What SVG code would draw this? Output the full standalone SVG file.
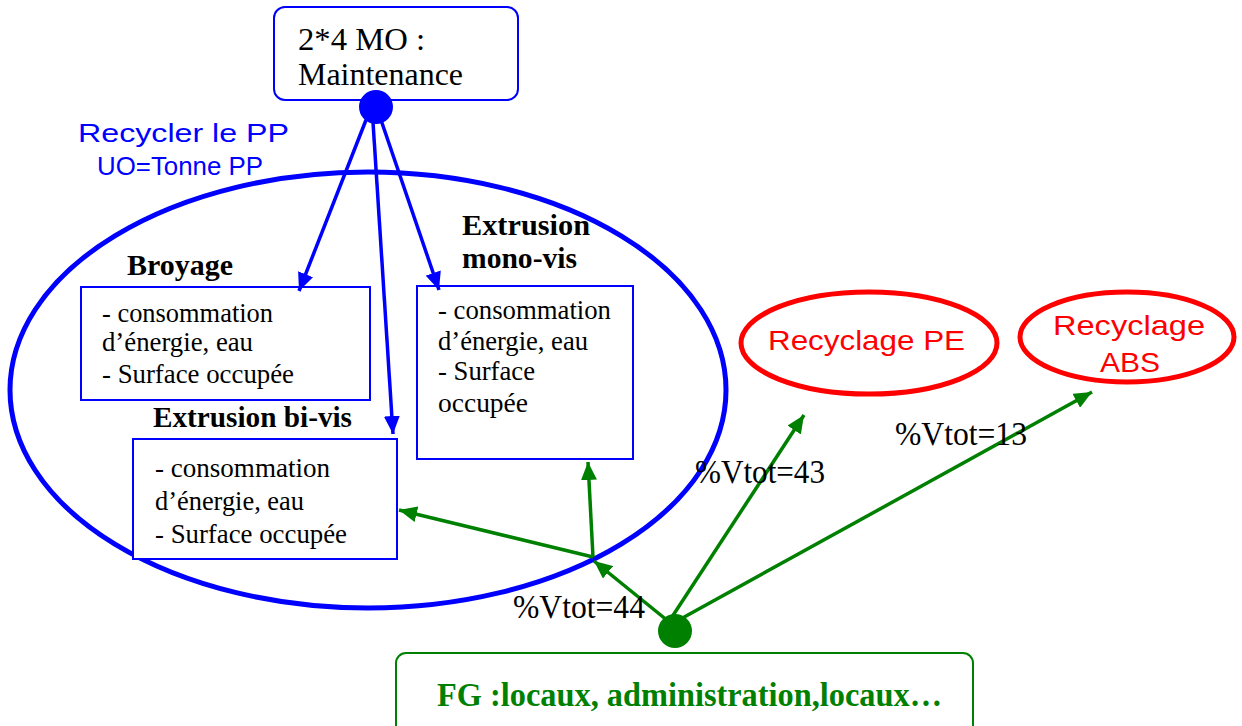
<svg xmlns="http://www.w3.org/2000/svg" width="1242" height="726" viewBox="0 0 1242 726">
<style>
.ser{font-family:"Liberation Serif","Times New Roman",serif;fill:#000}
.body{font-size:27px}
.title{font-size:30px;font-weight:bold}
.blue{font-family:"Liberation Sans",Arial,sans-serif;font-size:25px;fill:#0000ff}
.red{font-family:"Liberation Sans",Arial,sans-serif;font-size:28px;fill:#ff0000}
.lbl{font-size:34px}
.box{fill:#fff;stroke:#0000ff;stroke-width:2}
.bl{stroke:#0000ff;stroke-width:3.5;fill:none}
.gr{stroke:#008000;stroke-width:3.5;fill:none}
</style>
<defs>
<marker id="ab" markerUnits="userSpaceOnUse" markerWidth="20" markerHeight="16" refX="18" refY="8" orient="auto"><path d="M0,0 L18,8 L0,16 Z" fill="#0000ff"/></marker>
<marker id="ag" markerUnits="userSpaceOnUse" markerWidth="20" markerHeight="16" refX="18" refY="8" orient="auto"><path d="M0,0 L18,8 L0,16 Z" fill="#008000"/></marker>
</defs>
<rect width="1242" height="726" fill="#fff"/>

<g id="pp-ellipse">
<ellipse cx="368" cy="390" rx="358" ry="218" fill="none" stroke="#0000ff" stroke-width="5"/>
<text class="blue" x="78" y="142" textLength="211" lengthAdjust="spacingAndGlyphs">Recycler le PP</text>
<text class="blue" x="97" y="175" textLength="166" lengthAdjust="spacingAndGlyphs">UO=Tonne PP</text>
</g>

<g id="maintenance">
<rect x="274" y="7" width="244" height="93" rx="11" fill="#fff" stroke="#0000ff" stroke-width="2"/>
<text class="ser" x="298" y="50" font-size="31" textLength="127" lengthAdjust="spacingAndGlyphs">2*4 MO :</text>
<text class="ser" x="298" y="85" font-size="31" textLength="165" lengthAdjust="spacingAndGlyphs">Maintenance</text>
<circle cx="376" cy="107" r="17" fill="#0000ff"/>
</g>

<g id="broyage">
<text class="ser title" x="127" y="275" textLength="106" lengthAdjust="spacingAndGlyphs">Broyage</text>
<rect class="box" x="81" y="287" width="289" height="113"/>
<text class="ser body" x="102" y="322" textLength="171" lengthAdjust="spacingAndGlyphs">- consommation</text>
<text class="ser body" x="102" y="351" textLength="151" lengthAdjust="spacingAndGlyphs">d’énergie, eau</text>
<text class="ser body" x="102" y="383" textLength="192" lengthAdjust="spacingAndGlyphs">- Surface occupée</text>
</g>

<g id="mono-vis">
<text class="ser title" x="462" y="235" textLength="128" lengthAdjust="spacingAndGlyphs">Extrusion</text>
<text class="ser title" x="462" y="268" textLength="115" lengthAdjust="spacingAndGlyphs">mono-vis</text>
<rect class="box" x="417" y="286" width="216" height="173"/>
<text class="ser body" x="438" y="319" textLength="173" lengthAdjust="spacingAndGlyphs">- consommation</text>
<text class="ser body" x="438" y="350" textLength="150" lengthAdjust="spacingAndGlyphs">d’énergie, eau</text>
<text class="ser body" x="438" y="380" textLength="97" lengthAdjust="spacingAndGlyphs">- Surface</text>
<text class="ser body" x="438" y="412" textLength="90" lengthAdjust="spacingAndGlyphs">occupée</text>
</g>

<g id="bi-vis">
<text class="ser title" x="153" y="427" textLength="199" lengthAdjust="spacingAndGlyphs">Extrusion bi-vis</text>
<rect class="box" x="133" y="439" width="264" height="120"/>
<text class="ser body" x="155" y="477" textLength="175" lengthAdjust="spacingAndGlyphs">-  consommation</text>
<text class="ser body" x="155" y="510" textLength="149" lengthAdjust="spacingAndGlyphs">d’énergie, eau</text>
<text class="ser body" x="155" y="543" textLength="192" lengthAdjust="spacingAndGlyphs">- Surface occupée</text>
</g>

<g id="recyclage-pe">
<ellipse cx="869" cy="343" rx="128" ry="51" fill="none" stroke="#ff0000" stroke-width="5"/>
<text class="red" x="768" y="350" textLength="197" lengthAdjust="spacingAndGlyphs">Recyclage PE</text>
</g>

<g id="recyclage-abs">
<ellipse cx="1127" cy="337" rx="107" ry="45" fill="none" stroke="#ff0000" stroke-width="5"/>
<text class="red" x="1053" y="335" textLength="152" lengthAdjust="spacingAndGlyphs">Recyclage</text>
<text class="red" x="1100" y="372" textLength="60" lengthAdjust="spacingAndGlyphs">ABS</text>
</g>

<g id="fg">
<rect x="396" y="653" width="577" height="90" rx="10" fill="#fff" stroke="#008000" stroke-width="2"/>
<text class="ser" x="437" y="706" font-size="34" font-weight="bold" style="fill:#008000" textLength="505" lengthAdjust="spacingAndGlyphs">FG :locaux, administration,locaux…</text>
<circle cx="675" cy="631" r="17" fill="#008000"/>
</g>

<g id="connectors">
<line class="bl" x1="366" y1="120" x2="299" y2="291" marker-end="url(#ab)"/>
<line class="bl" x1="373" y1="122" x2="393" y2="434" marker-end="url(#ab)"/>
<line class="bl" x1="381" y1="120" x2="439" y2="290" marker-end="url(#ab)"/>
<line class="gr" x1="668" y1="621" x2="594" y2="561" marker-end="url(#ag)"/>
<line class="gr" x1="593" y1="557" x2="399" y2="510" marker-end="url(#ag)"/>
<line class="gr" x1="593" y1="557" x2="588" y2="462" marker-end="url(#ag)"/>
<line class="gr" x1="670" y1="620" x2="804" y2="415" marker-end="url(#ag)"/>
<line class="gr" x1="677" y1="621" x2="1092" y2="392" marker-end="url(#ag)"/>
<text class="ser lbl" x="513" y="618" textLength="132" lengthAdjust="spacingAndGlyphs">%Vtot=44</text>
<text class="ser lbl" x="695" y="483" textLength="130" lengthAdjust="spacingAndGlyphs">%Vtot=43</text>
<text class="ser lbl" x="895" y="445" textLength="132" lengthAdjust="spacingAndGlyphs">%Vtot=13</text>
</g>
</svg>
